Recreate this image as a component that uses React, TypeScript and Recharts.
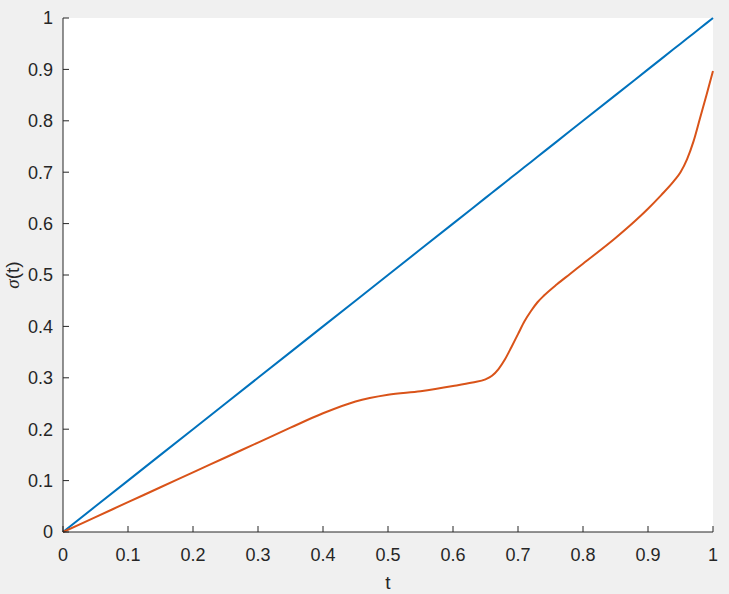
import { LineChart, Line, XAxis, YAxis, CartesianGrid, Label } from 'recharts';

// time samples and the warped curve sigma(t)
const tValues = [
    0, 0.05, 0.1, 0.15, 0.2, 0.25, 0.3, 0.35, 0.4, 0.45, 0.5, 0.55, 0.6, 0.63, 0.65, 0.66,
    0.67, 0.68, 0.69, 0.7, 0.71, 0.72, 0.73, 0.74, 0.76, 0.78, 0.8, 0.85, 0.88, 0.9, 0.92,
    0.94, 0.95, 0.96, 0.97, 0.98, 0.99, 1,
];
const sigmaValues = [
    0, 0.029, 0.058, 0.087, 0.116, 0.145, 0.174, 0.203, 0.231, 0.254, 0.267, 0.274, 0.284,
    0.291, 0.297, 0.304, 0.317, 0.336, 0.36, 0.385, 0.41, 0.43, 0.447, 0.46, 0.482, 0.502,
    0.522, 0.572, 0.605, 0.629, 0.655, 0.683, 0.7, 0.725, 0.76, 0.805, 0.85, 0.897,
];
const xTicks = [0, 0.1, 0.2, 0.3, 0.4, 0.5, 0.6, 0.7, 0.8, 0.9, 1];
const yTicks = [0, 0.1, 0.2, 0.3, 0.4, 0.5, 0.6, 0.7, 0.8, 0.9, 1];

const data = tValues.map((t, i) => ({ t, identity: t, sigma: sigmaValues[i] }));

const AXIS = '#262626';
const FONT = 'Arial, "Liberation Sans", Helvetica, sans-serif';
const TICK = 6;

const BottomTick = ({ x, y, payload }: any) => (
    <g>
        <line x1={x} y1={y} x2={x} y2={y - TICK} stroke={AXIS} />
        <text x={x} y={y + 29} textAnchor="middle" fill={AXIS} fontSize={18} fontFamily={FONT}>
            {payload.value}
        </text>
    </g>
);
const TopTick = ({ x, y }: any) => <line x1={x} y1={y} x2={x} y2={y + TICK} stroke={AXIS} />;
const LeftTick = ({ x, y, payload }: any) => (
    <g>
        <line x1={x} y1={y} x2={x + TICK} y2={y} stroke={AXIS} />
        <text x={x - 10} y={y} dy="0.36em" textAnchor="end" fill={AXIS} fontSize={18} fontFamily={FONT}>
            {payload.value}
        </text>
    </g>
);
const RightTick = ({ x, y }: any) => <line x1={x} y1={y} x2={x - TICK} y2={y} stroke={AXIS} />;

export default function App() {
    return (
        <div style={{ position: 'fixed', left: 0, top: 0, width: 729, height: 594, background: '#f0f0f0' }}>
            <LineChart width={729} height={594} data={data} margin={{ top: 18, right: 16, left: 0, bottom: 0 }}>
                <CartesianGrid fill="#ffffff" fillOpacity={1} horizontal={false} vertical={false} />
                <XAxis
                    xAxisId="b"
                    dataKey="t"
                    type="number"
                    domain={[0, 1]}
                    ticks={xTicks}
                    interval={0}
                    height={62}
                    tickLine={false}
                    tickSize={0}
                    tickMargin={0}
                    stroke={AXIS}
                    tick={<BottomTick />}
                >
                    <Label
                        content={({ viewBox }: any) => (
                            <text
                                x={viewBox.x + viewBox.width / 2}
                                y={viewBox.y + 57}
                                textAnchor="middle"
                                fill={AXIS}
                                fontSize={19}
                                fontFamily={FONT}
                            >
                                t
                            </text>
                        )}
                    />
                </XAxis>
                <XAxis
                    xAxisId="t"
                    orientation="top"
                    dataKey="t"
                    type="number"
                    domain={[0, 1]}
                    ticks={xTicks}
                    interval={0}
                    height={0}
                    tickLine={false}
                    tickSize={0}
                    tickMargin={0}
                    stroke={AXIS}
                    tick={<TopTick />}
                />
                <YAxis
                    yAxisId="l"
                    type="number"
                    domain={[0, 1]}
                    ticks={yTicks}
                    interval={0}
                    width={63}
                    tickLine={false}
                    tickSize={0}
                    tickMargin={0}
                    stroke={AXIS}
                    tick={<LeftTick />}
                >
                    <Label
                        content={({ viewBox }: any) => {
                            const cx = viewBox.x + 19;
                            const cy = viewBox.y + viewBox.height / 2;
                            return (
                                <text
                                    x={cx}
                                    y={cy}
                                    transform={`rotate(-90 ${cx} ${cy})`}
                                    textAnchor="middle"
                                    fill={AXIS}
                                    fontSize={19}
                                    fontFamily={FONT}
                                >
                                    <tspan fontStyle="italic" fontFamily='"Times New Roman", "Liberation Serif", serif'>σ</tspan>
                                    <tspan>(t)</tspan>
                                </text>
                            );
                        }}
                    />
                </YAxis>
                <YAxis
                    yAxisId="r"
                    orientation="right"
                    type="number"
                    domain={[0, 1]}
                    ticks={yTicks}
                    interval={0}
                    width={0}
                    tickLine={false}
                    tickSize={0}
                    tickMargin={0}
                    stroke={AXIS}
                    tick={<RightTick />}
                />
                <Line
                    xAxisId="b"
                    yAxisId="l"
                    type="linear"
                    dataKey="identity"
                    stroke="#0072BD"
                    strokeWidth={2}
                    dot={false}
                    isAnimationActive={false}
                />
                <Line
                    xAxisId="b"
                    yAxisId="l"
                    type="monotone"
                    dataKey="sigma"
                    stroke="#D95319"
                    strokeWidth={2}
                    dot={false}
                    isAnimationActive={false}
                />
            </LineChart>
        </div>
    );
}
